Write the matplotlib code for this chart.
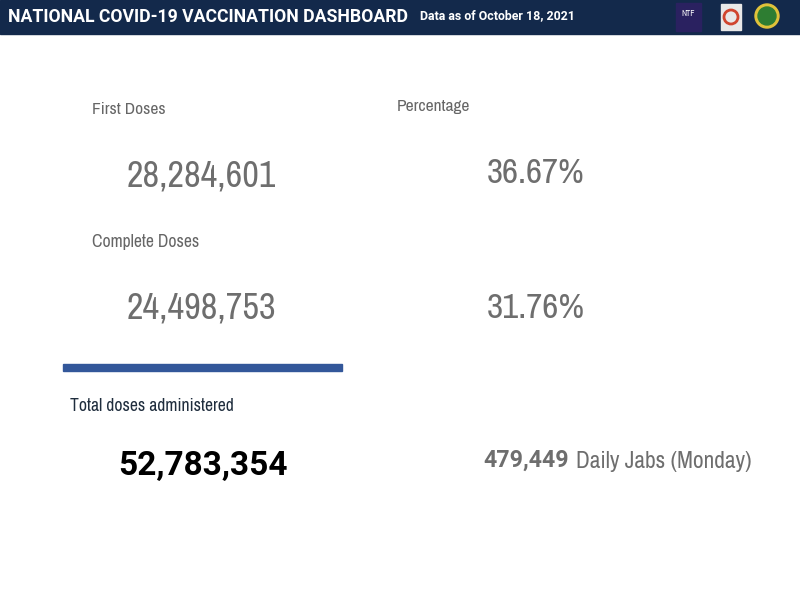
import matplotlib
matplotlib.use("Agg")
import matplotlib.pyplot as plt
from matplotlib.patches import Rectangle, Circle
from matplotlib import font_manager

# dashboard values
title = "NATIONAL COVID-19 VACCINATION DASHBOARD"
date_note = "Data as of October 18, 2021"
dose_labels = ["First Doses", "Complete Doses"]
dose_counts = [28284601, 24498753]
dose_pcts = [36.67, 31.76]
pct_label = "Percentage"
total_label = "Total doses administered"
total_doses = 52783354
daily_jabs = 479449
daily_label = "Daily Jabs (Monday)"

# prefer a narrow face if one is installed
narrow = None
for f in font_manager.fontManager.ttflist:
    if "Narrow" in f.name or "Condensed" in f.name:
        narrow = f.name
        break
family = [narrow, "Roboto", "DejaVu Sans"] if narrow else ["Roboto", "DejaVu Sans"]
plt.rcParams['font.family'] = family
bold_family = ["Roboto", "DejaVu Sans"]

fig = plt.figure(figsize=(8, 6), dpi=100)
ax = fig.add_axes([0, 0, 1, 1])
ax.set_xlim(0, 800)
ax.set_ylim(600, 0)
ax.axis("off")
fig.canvas.draw()
renderer = fig.canvas.get_renderer()


def fit_text(s, x0, x1, y, size=20, bold=False, **kw):
    # draw text starting at x0 and scale its size so it ends near x1
    if bold:
        kw.update(fontweight="bold", family=bold_family)
    t = ax.text(x0, y, s, fontsize=size, va="center", ha="left", **kw)
    w = t.get_window_extent(renderer).width
    t.set_fontsize(size * (x1 - x0) / w)
    return t


# header band
ax.add_patch(Rectangle((0, 0), 800, 34, color="#13294b"))
fit_text(title, 8, 408, 17, color="white", bold=True)
fit_text(date_note, 420, 575, 16, color="white", bold=True)

# logos (simple stand-ins)
ax.add_patch(Rectangle((676, 3), 25, 28, color="#2a2160"))
ax.text(688.5, 14, "NTF", color="white", fontsize=6, fontweight="bold", ha="center", va="center")
ax.add_patch(Rectangle((721, 4), 20, 26, color="#e8e8e8"))
ax.add_patch(Circle((731, 17), 7, fill=False, ec="#d0452e", lw=2))
ax.add_patch(Circle((767, 16), 12, color="#e0c23a"))
ax.add_patch(Circle((767, 16), 9, color="#2e7d32"))

grey = "#6e6e6e"
label_grey = "#666666"
rows = [(110, 176, 165), (242, 308, 199)]
for (ly, vy, lx1), lab, cnt, pct in zip(rows, dose_labels, dose_counts, dose_pcts):
    fit_text(lab, 92, lx1, ly, color=label_grey)
    fit_text(f"{cnt:,}", 127, 276, vy, color=grey)
    fit_text(f"{pct:.2f}%", 487, 585, vy - (3 if ly == 110 else 0), color=grey)

fit_text(pct_label, 397, 470, 107, color=label_grey)

# divider bar
ax.add_patch(Rectangle((63, 364), 279, 7, color="#33579a"))

fit_text(total_label, 70, 233, 406, color="#1f2d3d")
fit_text(f"{total_doses:,}", 118, 287, 466, color="black", bold=True)

fit_text(f"{daily_jabs:,}", 483, 568, 460, color=grey, bold=True)
fit_text(daily_label, 576, 752, 462, color=grey)

fig.savefig("out.png", dpi=100, facecolor="white")
